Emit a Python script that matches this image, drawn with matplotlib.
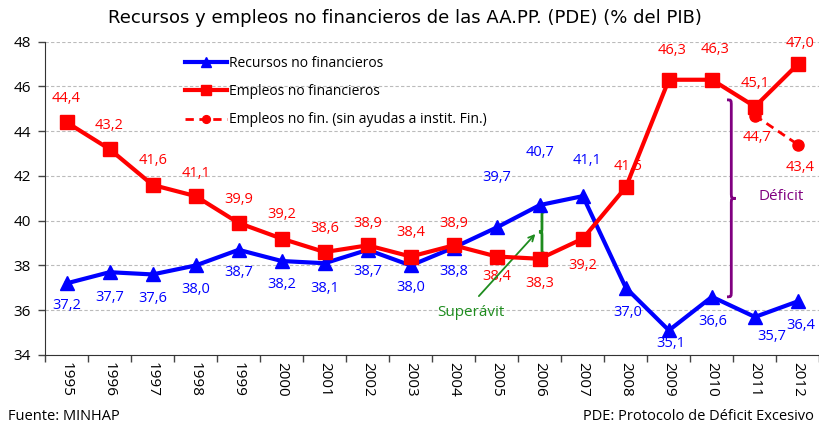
import matplotlib
matplotlib.use("Agg")
import matplotlib.pyplot as plt
from matplotlib.path import Path
from matplotlib.patches import PathPatch
import numpy as np

plt.rcParams['font.family'] = ['Open Sans', 'DejaVu Sans']

years = ['1995', '1996', '1997', '1998', '1999', '2000', '2001', '2002', '2003',
         '2004', '2005', '2006', '2007', '2008', '2009', '2010', '2011', '2012']
recursos = [37.2, 37.7, 37.6, 38.0, 38.7, 38.2, 38.1, 38.7, 38.0,
            38.8, 39.7, 40.7, 41.1, 37.0, 35.1, 36.6, 35.7, 36.4]
empleos = [44.4, 43.2, 41.6, 41.1, 39.9, 39.2, 38.6, 38.9, 38.4,
           38.9, 38.4, 38.3, 39.2, 41.5, 46.3, 46.3, 45.1, 47.0]
sin_ayudas_years = ['2011', '2012']
sin_ayudas = [44.7, 43.4]

# label offsets in pixels (dx, dy up positive)
off_rec = [(0, -22), (0, -25), (0, -24), (0, -24), (0, -23), (0, -23), (0, -25), (0, -22), (0, -22),
           (0, -24), (0, 50), (0, 53), (4, 36), (2, -25), (2, -13), (1, -25), (17, -20), (3, -24)]
off_emp = [(0, 24), (0, 24), (0, 24), (0, 23), (0, 23), (0, 24), (0, 24), (0, 22), (0, 24),
           (0, 22), (0, -20), (0, -25), (0, -27), (2, 21), (3, 29), (3, 30), (0, 23), (2, 21)]
off_sin = [(2, -22), (2, -23)]

BLUE = '#0000FF'
RED = '#FF0000'
GREEN = '#1E8C1E'
PURPLE = '#800080'

fig = plt.figure(figsize=(8.2, 4.3), dpi=100)
ax = fig.add_axes([45 / 820, 1 - 355 / 430, 774.5 / 820, 313.3 / 430])

x = np.arange(len(years))
xs = [years.index(y) for y in sin_ayudas_years]

ax.plot(x, recursos, color=BLUE, lw=3, marker='^', ms=10, zorder=4,
        label='Recursos no financieros')
ax.plot(x, empleos, color=RED, lw=3, marker='s', ms=10, zorder=4,
        label='Empleos no financieros')
ax.plot(xs, sin_ayudas, color=RED, lw=2, ls=(0, (3, 2)), marker='o', ms=8, zorder=3,
        label='Empleos no fin. (sin ayudas a instit. Fin.)')

PX = 72 / 100.0


def fmt(v):
    return f"{v:.1f}".replace('.', ',')


for xi, v, (dx, dy) in zip(x, recursos, off_rec):
    ax.annotate(fmt(v), (xi, v), xytext=(dx * PX, dy * PX), textcoords='offset points',
                ha='center', va='center', color=BLUE, fontsize=10.5, zorder=2)
for xi, v, (dx, dy) in zip(x, empleos, off_emp):
    ax.annotate(fmt(v), (xi, v), xytext=(dx * PX, dy * PX), textcoords='offset points',
                ha='center', va='center', color=RED, fontsize=10.5, zorder=2)
for xi, v, (dx, dy) in zip(xs, sin_ayudas, off_sin):
    ax.annotate(fmt(v), (xi, v), xytext=(dx * PX, dy * PX), textcoords='offset points',
                ha='center', va='center', color=RED, fontsize=10.5, zorder=2)


def brace(ax, x0, y0, y1, ym, w, h, color):
    verts = [(x0 - w, y1), (x0, y1), (x0, y1), (x0, y1 - h),
             (x0, ym + h),
             (x0, ym), (x0, ym), (x0 + w, ym),
             (x0, ym), (x0, ym), (x0, ym - h),
             (x0, y0 + h),
             (x0, y0), (x0, y0), (x0 - w, y0)]
    codes = [Path.MOVETO, Path.CURVE4, Path.CURVE4, Path.CURVE4,
             Path.LINETO,
             Path.CURVE4, Path.CURVE4, Path.CURVE4,
             Path.CURVE4, Path.CURVE4, Path.CURVE4,
             Path.LINETO,
             Path.CURVE4, Path.CURVE4, Path.CURVE4]
    ax.add_patch(PathPatch(Path(verts, codes), fc='none', ec=color, lw=2, zorder=3))


brace(ax, 15.45, 36.6, 45.4, 41.0, 0.1, 0.27, PURPLE)
ax.text(16.6, 41.1, 'Déficit', color=PURPLE, fontsize=11, ha='center', va='center')

brace(ax, 11.05, 38.55, 40.4, 39.5, -0.07, 0.2, GREEN)
ax.annotate('', xy=(10.94, 39.5), xytext=(9.54, 36.54),
            arrowprops=dict(arrowstyle='->', color=GREEN, lw=1.3))
ax.text(9.4, 35.9, 'Superávit', color=GREEN, fontsize=11, ha='center', va='center')

ax.set_xlim(-0.5, len(years) - 0.5)
ax.set_ylim(34, 48)
ax.set_yticks(np.arange(34, 49, 2))
ax.set_xticks(x)
ax.set_xticklabels(years, rotation=-90, fontsize=11)
ax.set_xticks(np.arange(-0.5, len(years), 1), minor=True)
ax.tick_params(axis='x', which='major', length=0, pad=5)
ax.tick_params(axis='x', which='minor', length=5, width=1, color='#444444')
ax.tick_params(axis='y', length=5, width=1, pad=5, labelsize=11, color='#444444')
for s in ['top', 'right']:
    ax.spines[s].set_visible(False)
ax.spines['left'].set_color('#333333')
ax.spines['bottom'].set_color('#333333')
ax.grid(axis='y', color='#BBBBBB', ls=(0, (3, 2)), lw=0.8)
ax.set_axisbelow(True)

leg = ax.legend(loc='upper left', bbox_to_anchor=(185 / 820, 1 - 56 / 430),
                bbox_transform=fig.transFigure, frameon=False, fontsize=10,
                handlelength=3.0, handletextpad=0.2, labelspacing=0.95,
                markerscale=0.7, borderpad=0, borderaxespad=0)

fig.text(405 / 820, 1 - 18 / 430, 'Recursos y empleos no financieros de las AA.PP. (PDE) (% del PIB)',
         ha='center', va='center', fontsize=13, family=['DejaVu Sans'])
fig.text(8 / 820, 1 - 417 / 430, 'Fuente: MINHAP', ha='left', va='center', fontsize=10.5)
fig.text(814 / 820, 1 - 417 / 430, 'PDE: Protocolo de Déficit Excesivo', ha='right', va='center',
         fontsize=10.5)

fig.savefig('out.png', dpi=100)
